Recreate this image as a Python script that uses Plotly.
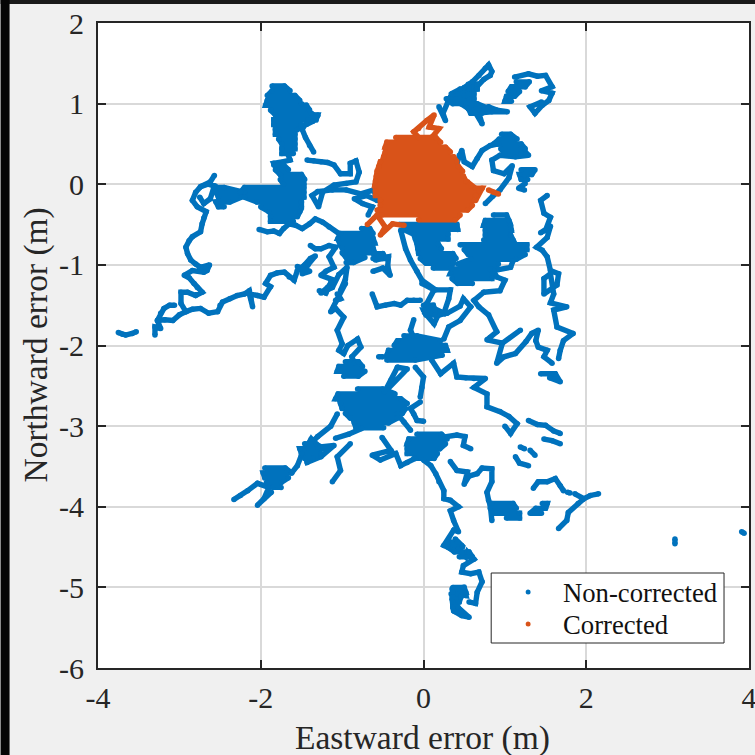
import plotly.graph_objects as go

# Chains: (eastward error, northward error) readings in metres, in drawing order.
tower_tail = [(-1.42,0.80),(-1.49,0.68),(-1.45,0.58),(-1.40,0.48),(-1.35,0.40)]
tower_arm = [(-1.50,1.0),(-1.44,0.94),(-1.38,0.88),(-1.31,0.84),(-1.36,0.78),(-1.44,0.74)]
tower_foot = [(-1.66,0.36),(-1.64,0.30),(-1.72,0.28),(-1.84,0.26),(-1.80,0.18),(-1.75,0.11)]
west_arm = [(-2.57,0.11),(-2.62,0.03),(-2.74,-0.03),(-2.80,-0.10),(-2.84,-0.20),(-2.78,-0.28),(-2.67,-0.34),(-2.70,-0.42),(-2.72,-0.49),(-2.74,-0.59),(-2.84,-0.65),(-2.88,-0.70),(-2.92,-0.78),(-2.90,-0.86),(-2.86,-0.94),(-2.80,-0.99),(-2.74,-1.03),(-2.63,-1.00),(-2.66,-1.07),(-2.70,-1.09),(-2.84,-1.07),(-2.94,-1.13),(-2.88,-1.16),(-2.82,-1.23),(-2.78,-1.28),(-2.72,-1.34),(-2.80,-1.38),(-2.90,-1.34),(-2.98,-1.34),(-2.98,-1.48),(-2.92,-1.58),(-3.00,-1.62),(-3.08,-1.69),(-3.18,-1.68),(-3.27,-1.69),(-3.23,-1.60),(-3.19,-1.54),(-3.12,-1.50),(-3.06,-1.50)]
west_arm_top = [(-2.74,-0.03),(-2.65,0.0),(-2.57,-0.02),(-2.62,-0.18),(-2.70,-0.24),(-2.75,-0.16)]
far_west = [(-3.75,-1.84),(-3.70,-1.86),(-3.66,-1.87),(-3.58,-1.85),(-3.53,-1.83)]
far_west_end = [(-3.30,-1.87),(-3.30,-1.77),(-3.23,-1.79),(-3.27,-1.69)]
south_west_arm = [(-2.92,-1.58),(-2.84,-1.55),(-2.74,-1.54),(-2.64,-1.60),(-2.53,-1.58),(-2.50,-1.50),(-2.47,-1.46),(-2.38,-1.42),(-2.29,-1.38),(-2.20,-1.36),(-2.14,-1.32),(-2.12,-1.42),(-2.10,-1.52),(-2.14,-1.36),(-2.04,-1.38),(-1.96,-1.40),(-1.88,-1.27),(-1.94,-1.23),(-1.88,-1.13),(-1.80,-1.10),(-1.71,-1.09),(-1.65,-1.15),(-1.59,-1.19),(-1.55,-1.07),(-1.46,-1.00),(-1.39,-0.92),(-1.33,-0.89),(-1.42,-1.00),(-1.49,-1.11),(-1.40,-1.08),(-1.55,-1.02)]
nw_spurs = [(-1.39,-0.76),(-1.33,-0.80),(-1.26,-0.80),(-1.16,-0.76),(-1.08,-0.78),(-1.16,-0.90),(-1.10,-1.03),(-1.20,-1.08),(-1.26,-1.13),(-1.10,-1.19),(-1.18,-1.28),(-1.26,-1.35),(-1.12,-1.28),(-1.04,-1.12),(-0.94,-1.03),(-0.96,-1.18),(-1.02,-1.32)]
row_south = [(-2.02,-0.56),(-1.92,-0.59),(-1.84,-0.58),(-1.77,-0.61),(-1.72,-0.55),(-1.65,-0.49),(-1.57,-0.51),(-1.49,-0.55),(-1.40,-0.49),(-1.33,-0.43),(-1.24,-0.47),(-1.16,-0.53),(-1.04,-0.61)]
north_loop = [(-1.43,0.30),(-1.35,0.29),(-1.26,0.28),(-1.18,0.27),(-1.10,0.24),(-1.02,0.13),(-0.90,0.13),(-0.90,0.26),(-0.83,0.29),(-0.79,0.15),(-0.83,0.03),(-0.95,0.01),(-1.10,-0.01),(-1.24,-0.10),(-1.29,-0.28),(-1.37,-0.14),(-1.30,-0.09),(-1.12,-0.07),(-0.95,-0.07),(-0.77,-0.12),(-0.61,-0.07),(-0.57,-0.20),(-0.70,-0.14),(-0.85,-0.18),(-0.75,-0.24),(-0.63,-0.28),(-0.68,-0.38)]
left_column = [(-0.96,-1.23),(-1.04,-1.40),(-1.14,-1.58),(-1.08,-1.54),(-0.98,-1.65),(-1.06,-1.81),(-1.00,-1.98),(-1.04,-2.06),(-0.98,-2.10),(-0.93,-2.0),(-0.81,-1.92),(-0.77,-2.02),(-0.88,-2.14),(-0.85,-2.22)]
far_left_column = [(-1.06,-1.36),(-1.02,-1.42),(-1.08,-1.44)]
upper_link = [(-1.28,-1.32),(-1.20,-1.35),(-1.14,-1.22)]
mid_links = [(-0.63,-1.36),(-0.57,-1.52),(-0.47,-1.50),(-0.36,-1.48),(-0.28,-1.50),(-0.20,-1.44),(-0.12,-1.44),(-0.04,-1.44)]
mid_cluster = [(-0.59,-0.94),(-0.50,-0.92),(-0.43,-0.90),(-0.44,-1.02),(-0.41,-1.13),(-0.50,-1.04),(-0.62,-1.08)]
center_links = [(-0.28,-0.57),(-0.22,-0.80),(-0.16,-0.94),(-0.08,-1.08),(-0.02,-1.19),(0.15,-1.31),(0.33,-1.31),(0.31,-1.42),(0.25,-1.60),(0.09,-1.52),(0.02,-1.60),(0.13,-1.73),(0.20,-1.58)]
center_links2 = [(-0.02,-1.23),(0.13,-1.31),(0.04,-1.48),(0.06,-1.62),(0.20,-1.62),(0.29,-1.60),(0.45,-1.51),(0.49,-1.42),(0.58,-1.52),(0.45,-1.69),(0.31,-1.77),(0.25,-1.92)]
upper_south = [(-0.12,-1.68),(-0.16,-1.81),(-0.13,-1.88)]
east_blob_skirt = [(0.74,-1.34),(0.94,-1.32),(1.00,-1.19),(0.90,-1.15),(0.86,-1.07),(1.07,-1.03),(1.10,-0.95)]
east_blob_skirt2 = [(0.74,-1.34),(0.62,-1.44),(0.68,-1.52),(0.80,-1.62),(0.90,-1.83),(0.82,-1.90),(0.78,-1.93),(0.97,-1.97),(1.19,-1.81)]
east_blob_skirt3 = [(0.97,-1.97),(0.90,-2.22),(0.99,-2.14),(1.13,-2.10),(1.26,-1.95),(1.33,-1.85),(1.41,-1.81),(1.38,-1.94),(1.41,-2.02),(1.52,-2.06),(1.48,-2.14),(1.58,-2.22)]
ne_arm = [(0.19,0.96),(0.27,0.79),(0.24,0.88),(0.30,1.02),(0.33,1.08),(0.39,1.12),(0.50,1.20),(0.60,1.27),(0.68,1.35),(0.76,1.44),(0.80,1.48),(0.84,1.40),(0.82,1.35),(0.74,1.30),(0.66,1.22),(0.60,1.15),(0.56,1.05),(0.62,0.92),(0.72,0.75),(0.66,0.95),(0.74,0.94),(0.80,0.96),(0.90,0.92),(1.03,0.90),(0.84,0.90),(0.64,0.88),(0.55,0.94),(0.46,1.00),(0.36,1.02),(0.42,1.12),(0.50,1.10),(0.56,1.18)]
ne_loop = [(1.12,1.33),(1.29,1.37),(1.40,1.34),(1.50,1.35),(1.58,1.21),(1.45,1.16),(1.58,1.13),(1.54,1.04),(1.46,0.98),(1.37,0.88),(1.31,0.96),(1.45,1.02)]
east_center = [(0.41,0.26),(0.44,0.36),(0.47,0.42),(0.50,0.28),(0.60,0.22),(0.66,0.32),(0.72,0.42),(0.82,0.48),(0.92,0.50)]
east_center2 = [(1.20,0.46),(1.29,0.36),(1.13,0.34),(0.94,0.36),(0.84,0.30),(0.86,0.17),(0.99,0.13),(1.09,0.23),(1.05,0.08),(0.94,-0.07),(0.85,-0.15),(0.76,-0.24)]
east_lump_tail = [(1.25,0.01),(1.17,-0.05),(1.24,-0.07)]
right_col = [(1.52,-0.14),(1.44,-0.20),(1.48,-0.36),(1.56,-0.41),(1.50,-0.57),(1.44,-0.60),(1.56,-0.52),(1.52,-0.66),(1.39,-0.78),(1.46,-0.82),(1.52,-0.90),(1.56,-1.07),(1.66,-1.11),(1.64,-1.25),(1.48,-1.36),(1.48,-1.17),(1.56,-1.11),(1.60,-1.36),(1.56,-1.47),(1.76,-1.52),(1.60,-1.56),(1.64,-1.77),(1.84,-1.85),(1.72,-1.94),(1.68,-2.06),(1.66,-2.16)]
right_col2 = [(1.44,-2.35),(1.62,-2.35),(1.68,-2.45),(1.55,-2.40)]
below_blob2 = [(-0.10,-2.27),(0.0,-2.39),(-0.02,-2.52),(-0.04,-2.64)]
below_blob3 = [(-0.04,-2.70),(-0.16,-2.78),(-0.12,-2.85),(-0.08,-2.93),(0.0,-2.94)]
blob2_left = [(-0.55,-2.14),(-0.50,-2.14)]
blob2_leg = [(-0.32,-2.27),(-0.40,-2.43),(-0.48,-2.58),(-0.20,-2.29),(-0.32,-2.27)]
row_2_4 = [(0.10,-2.18),(0.21,-2.35),(0.37,-2.22),(0.41,-2.39),(0.52,-2.40),(0.62,-2.41),(0.76,-2.41),(0.62,-2.52),(0.78,-2.60),(0.78,-2.76),(0.94,-2.82),(1.05,-2.88),(1.15,-2.97),(1.07,-3.09),(1.00,-3.00)]
fragment_a = [(1.29,-2.93),(1.40,-2.98),(1.50,-2.99),(1.60,-3.06),(1.68,-3.09)]
fragment_b = [(1.48,-3.16),(1.58,-3.18),(1.68,-3.22)]
fragment_c = [(1.19,-3.26),(1.24,-3.28)]
fragment_c2 = [(1.31,-3.30),(1.37,-3.36)]
fragment_d = [(1.13,-3.38),(1.18,-3.46),(1.29,-3.49)]
east_tail = [(1.35,-3.77),(1.41,-3.69),(1.52,-3.69),(1.62,-3.65),(1.68,-3.74),(1.72,-3.80)]
east_tail2 = [(1.86,-3.84),(1.97,-3.90),(2.05,-3.86),(2.15,-3.84)]
east_tail3 = [(1.97,-3.90),(1.90,-3.96),(1.78,-4.07),(1.76,-4.17),(1.66,-4.27)]
lower_right_bit = [(1.77,-3.82),(1.80,-3.83)]
sw_arm = [(-1.06,-2.85),(-1.14,-3.0),(-1.30,-3.13),(-1.47,-3.30),(-1.43,-3.45),(-1.26,-3.38),(-1.10,-3.24),(-1.30,-3.26),(-1.38,-3.16),(-1.50,-3.36),(-1.55,-3.49),(-1.62,-3.58)]
sw_tail = [(-1.87,-3.82),(-2.04,-3.98),(-1.96,-3.90),(-1.90,-3.76),(-2.04,-3.71),(-2.16,-3.80),(-2.25,-3.86),(-2.33,-3.91)]
sw_arm2 = [(-0.90,-3.22),(-1.06,-3.38),(-1.02,-3.55),(-1.12,-3.69)]
sw_arm3 = [(-0.76,-3.03),(-0.92,-3.10),(-1.08,-3.15)]
south_center_top = [(0.22,-3.14),(0.41,-3.11),(0.51,-3.13),(0.49,-3.24),(0.58,-3.28)]
south_leg = [(0.0,-3.42),(0.09,-3.49),(0.15,-3.59),(0.19,-3.69),(0.25,-3.80),(0.25,-3.90),(0.33,-3.92),(0.43,-4.00),(0.33,-4.05),(0.37,-4.17),(0.43,-4.31),(0.37,-4.29),(0.31,-4.40),(0.25,-4.48),(0.37,-4.54),(0.47,-4.48),(0.39,-4.40),(0.43,-4.52),(0.52,-4.62),(0.54,-4.56),(0.62,-4.65),(0.49,-4.73),(0.47,-4.81),(0.58,-4.83),(0.68,-4.81),(0.72,-4.93),(0.66,-5.06),(0.64,-5.20),(0.56,-5.18)]
south_foot = [(0.35,-5.02),(0.49,-5.00),(0.52,-5.10),(0.41,-5.08),(0.43,-5.18),(0.35,-5.14),(0.37,-5.29),(0.47,-5.35),(0.56,-5.37),(0.39,-5.22),(0.34,-5.08)]
south_branch = [(0.33,-3.44),(0.41,-3.55),(0.54,-3.57),(0.50,-3.72),(0.56,-3.62),(0.66,-3.59),(0.72,-3.52),(0.84,-3.53),(0.84,-3.69),(0.78,-3.82),(0.80,-3.92),(0.82,-3.98),(0.84,-4.17)]
lower_left = [(-0.51,-3.14),(-0.40,-3.30),(-0.63,-3.36),(-0.53,-3.42),(-0.34,-3.34),(-0.28,-3.49),(-0.20,-3.45),(-0.10,-3.40)]
down_links = [(-0.32,-2.85),(-0.24,-2.95),(-0.16,-3.05)]
isolated_a = [(3.09,-4.40),(3.09,-4.46)]
isolated_b = [(3.91,-4.31),(3.94,-4.33)]

# Dense clusters: one (northward error, west edge, east edge) reading per row of the cluster.
tower_rows = [(1.22,-1.86,-1.71),(1.16,-1.86,-1.64),(1.10,-1.92,-1.58),(1.04,-1.92,-1.52),(0.98,-1.94,-1.44),(0.92,-1.88,-1.40),(0.86,-1.82,-1.30),(0.80,-1.84,-1.32),(0.74,-1.84,-1.50),(0.68,-1.82,-1.55),(0.62,-1.82,-1.58),(0.56,-1.78,-1.58),(0.50,-1.74,-1.58),(0.44,-1.74,-1.58),(0.38,-1.74,-1.60)]
west_rows_a = [(-0.04,-2.58,-2.45),(-0.10,-2.55,-2.20),(-0.16,-2.52,-2.24),(-0.22,-2.55,-2.38),(-0.28,-2.52,-2.45)]
west_rows_b = [(0.24,-1.84,-1.72),(0.18,-1.82,-1.66),(0.12,-1.76,-1.50),(0.06,-1.76,-1.46),(0.0,-1.72,-1.47),(-0.04,-2.20,-1.47),(-0.10,-2.25,-1.47),(-0.16,-2.20,-1.47),(-0.22,-2.05,-1.50),(-0.28,-2.00,-1.50),(-0.34,-1.90,-1.52),(-0.40,-1.88,-1.55),(-0.46,-1.88,-1.60)]
nw_rows = [(-0.55,-0.76,-0.66),(-0.61,-1.02,-0.62),(-0.67,-1.05,-0.62),(-0.73,-1.03,-0.60),(-0.79,-1.00,-0.62),(-0.85,-1.00,-0.60),(-0.91,-0.95,-0.72),(-0.97,-0.95,-0.86)]
nw_rows_right = [(-0.86,-0.62,-0.50),(-0.92,-0.62,-0.46)]
center_rows = [(-0.50,-0.30,0.41),(-0.56,-0.25,0.42),(-0.62,-0.12,0.30),(-0.68,-0.10,0.30),(-0.74,-0.08,0.18),(-0.80,-0.07,0.22),(-0.86,-0.06,0.36),(-0.92,-0.04,0.40),(-0.98,0.03,0.36),(-1.04,0.12,0.34)]
east_rows_spire = [(-0.38,0.86,1.02),(-0.45,0.76,1.05),(-0.51,0.74,1.07),(-0.57,0.76,1.08),(-0.63,0.76,1.07),(-0.69,0.74,1.10)]
east_rows = [(-0.75,0.45,1.27),(-0.81,0.50,1.27),(-0.87,0.55,1.25),(-0.93,0.58,1.14),(-0.99,0.42,0.92),(-1.05,0.36,0.82),(-1.11,0.33,0.84),(-1.17,0.35,0.84),(-1.23,0.42,0.60)]
blob2_rows = [(-1.88,-0.24,-0.08),(-1.94,-0.32,0.21),(-2.00,-0.36,0.27),(-2.06,-0.43,0.29),(-2.12,-0.45,0.23),(-2.18,-0.45,-0.10)]
small_rows = [(-2.20,-0.96,-0.80),(-2.26,-1.04,-0.75),(-2.32,-1.06,-0.72),(-2.38,-0.98,-0.80)]
big_rows = [(-2.54,-0.81,-0.50),(-2.60,-1.05,-0.35),(-2.66,-1.08,-0.28),(-2.72,-1.02,-0.20),(-2.78,-1.00,-0.22),(-2.84,-0.96,-0.26),(-2.90,-0.90,-0.32),(-2.96,-0.85,-0.43),(-3.02,-0.83,-0.49)]
south_center_rows = [(-3.10,-0.08,0.22),(-3.16,-0.18,0.29),(-3.22,-0.20,0.27),(-3.28,-0.20,0.20),(-3.34,-0.20,0.17),(-3.40,-0.12,0.13)]
sw_rows = [(-3.52,-1.95,-1.70),(-3.58,-1.97,-1.62),(-3.64,-1.95,-1.66),(-3.70,-1.93,-1.75),(-3.76,-1.85,-1.75)]
sw_rows2 = [(-3.22,-1.46,-1.32),(-3.28,-1.52,-1.22),(-3.34,-1.50,-1.26),(-3.40,-1.46,-1.36)]
ne_rows = [(1.27,1.14,1.30),(1.21,1.08,1.25),(1.15,1.04,1.18),(1.09,1.02,1.12),(1.03,1.00,1.08)]
ne_rows2 = [(1.24,0.55,0.66),(1.18,0.45,0.66),(1.12,0.34,0.62),(1.06,0.28,0.62),(1.00,0.36,0.66),(0.94,0.55,0.80),(0.88,0.58,0.72)]
top_rows = [(0.62,0.96,1.07),(0.56,0.93,1.15),(0.50,0.86,1.20),(0.44,0.95,1.25),(0.38,1.00,1.20)]
lump_rows = [(0.18,1.20,1.37),(0.12,1.18,1.33),(0.06,1.20,1.28)]
se_rows = [(-3.96,0.84,1.10),(-4.02,0.82,1.14),(-4.08,0.88,1.18),(-4.14,1.02,1.18)]
se_rows2 = [(-3.96,1.46,1.52),(-4.02,1.38,1.50),(-4.08,1.31,1.45)]
leg_rows = [(-4.44,0.30,0.42),(-4.50,0.30,0.48),(-4.56,0.38,0.56),(-4.62,0.44,0.60)]
foot_rows = [(-5.00,0.36,0.50),(-5.06,0.36,0.52),(-5.12,0.36,0.46),(-5.18,0.36,0.44),(-5.24,0.36,0.42),(-5.30,0.38,0.46)]
mid_lump_rows = [(-1.50,0.0,0.12),(-1.56,0.0,0.14),(-1.62,0.03,0.14)]

# Corrected solution.
corrected_rows = [(0.58,-0.34,0.15),(0.52,-0.45,0.21),(0.46,-0.47,0.27),(0.40,-0.47,0.33),(0.34,-0.49,0.37),(0.28,-0.53,0.41),(0.22,-0.55,0.43),(0.16,-0.57,0.48),(0.10,-0.58,0.49),(0.04,-0.59,0.52),(-0.02,-0.60,0.58),(-0.08,-0.59,0.68),(-0.14,-0.59,0.64),(-0.20,-0.53,0.62),(-0.26,-0.53,0.60),(-0.32,-0.57,0.54),(-0.38,-0.51,0.45),(-0.44,-0.06,0.39)]
corrected_spike = [(0.11,0.59),(0.19,0.69),(0.07,0.71),(0.13,0.86),(0.04,0.79),(-0.06,0.69),(-0.12,0.65),(-0.06,0.58)]
corrected_tail = [(0.54,0.03),(0.64,-0.05),(0.72,-0.05),(0.64,-0.20)]
corrected_tail2 = [(0.80,-0.07),(0.86,-0.10),(0.92,-0.12)]
corrected_foot = [(-0.69,-0.50),(-0.57,-0.38),(-0.47,-0.53),(-0.53,-0.63),(-0.38,-0.49),(-0.24,-0.51)]

non_corrected_chains = [tower_tail, tower_arm, tower_foot, west_arm, west_arm_top, far_west, far_west_end, south_west_arm, nw_spurs, row_south, north_loop, left_column, far_left_column, upper_link, mid_links, mid_cluster, center_links, center_links2, upper_south, east_blob_skirt, east_blob_skirt2, east_blob_skirt3, ne_arm, ne_loop, east_center, east_center2, east_lump_tail, right_col, right_col2, below_blob2, below_blob3, blob2_left, blob2_leg, row_2_4, fragment_a, fragment_b, fragment_c, fragment_c2, fragment_d, east_tail, east_tail2, east_tail3, lower_right_bit, sw_arm, sw_tail, sw_arm2, sw_arm3, south_center_top, south_leg, south_foot, south_branch, lower_left, down_links, isolated_a, isolated_b]
non_corrected_rows = [tower_rows, west_rows_a, west_rows_b, nw_rows, nw_rows_right, center_rows, east_rows_spire, east_rows, blob2_rows, small_rows, big_rows, south_center_rows, sw_rows, sw_rows2, ne_rows, ne_rows2, top_rows, lump_rows, se_rows, se_rows2, leg_rows, foot_rows, mid_lump_rows]
corrected_chains = [corrected_spike, corrected_tail, corrected_tail2, corrected_foot]
corrected_row_sets = [corrected_rows]

x_ticks = [-4, -2, 0, 2, 4]
y_ticks = [-6, -5, -4, -3, -2, -1, 0, 1, 2]
series_names = ["Non-corrected", "Corrected"]
BLUE, ORANGE, INK = "#0072BD", "#D95319", "#262626"


def unroll(rows):
    """A cluster's rows, read alternately west-to-east and east-to-west."""
    out = []
    for i, (n, w, e) in enumerate(rows):
        out += [(w, n), (e, n)] if i % 2 == 0 else [(e, n), (w, n)]
    return out


def joined(chains, i):
    out = []
    for c in chains:
        out += [q[i] for q in c] + [None]
    return out


fig = go.Figure()
for name, chains, row_sets, col in [(series_names[0], non_corrected_chains, non_corrected_rows, BLUE),
                                    (series_names[1], corrected_chains, corrected_row_sets, ORANGE)]:
    paths = chains + [unroll(r) for r in row_sets]
    fig.add_trace(go.Scatter(x=joined(paths, 0), y=joined(paths, 1), mode="lines", showlegend=False,
                             hoverinfo="skip", line=dict(color=col, width=5.4, shape="linear")))
    fig.add_trace(go.Scatter(x=joined(paths, 0), y=joined(paths, 1), mode="markers", name=name, showlegend=False,
                             marker=dict(color=col, size=5.5)))

axis = dict(showline=True, linecolor=INK, linewidth=2, mirror="ticks", ticks="inside", ticklen=8,
            tickwidth=2, tickcolor=INK, showgrid=True, gridcolor="#d9d9d9", gridwidth=2, zeroline=False,
            tickfont=dict(size=30, color=INK), automargin=False, ticklabeloverflow="allow")
fig.update_xaxes(range=[-4, 4], tickvals=x_ticks, ticktext=[str(v) for v in x_ticks], ticklabelstandoff=2, **axis)
fig.update_yaxes(range=[-6, 2], tickvals=y_ticks, ticktext=[str(v) for v in y_ticks], ticklabelstandoff=6, **axis)

PW, PH = 651.5, 645.0


def px(x):
    return (x - 97.5) / PW


def py(y):
    return (668 - y) / PH


def note(text, x, y, size, xanchor="center", color=INK, **kw):
    return dict(text=text, x=px(x), y=py(y), xref="paper", yref="paper", showarrow=False,
                xanchor=xanchor, yanchor="middle", font=dict(size=size, color=color), **kw)


fig.update_layout(
    width=755, height=755, autosize=False, showlegend=False,
    margin=dict(l=97.5, r=6, t=23, b=87, pad=0),
    paper_bgcolor="#f0f0f0", plot_bgcolor="white",
    font=dict(family="Liberation Serif", color=INK),
    annotations=[
        note("Eastward error (m)", 422.5, 738, 33.5),
        note("Northward error (m)", 35, 345, 33.5, textangle=-90),
        note(series_names[0], 561, 593, 26.7, xanchor="left", color="#111111"),
        note(series_names[1], 561, 625, 26.7, xanchor="left", color="#111111"),
    ],
    shapes=[
        dict(type="rect", xref="paper", yref="paper", x0=px(0), x1=px(755), y0=py(4), y1=py(0),
             fillcolor="#1a1a1a", line_width=0, layer="below"),
        dict(type="rect", xref="paper", yref="paper", x0=px(0), x1=px(9), y0=py(755), y1=py(0),
             fillcolor="#050505", line_width=0, layer="below"),
        dict(type="rect", xref="paper", yref="paper", x0=px(491), x1=px(724), y0=py(643), y1=py(573),
             fillcolor="white", line=dict(color=INK, width=1)),
        dict(type="circle", xref="paper", yref="paper", x0=px(525.5), x1=px(530.5), y0=py(594.5), y1=py(589.5),
             fillcolor=BLUE, line_width=0),
        dict(type="circle", xref="paper", yref="paper", x0=px(525.5), x1=px(530.5), y0=py(626.5), y1=py(621.5),
             fillcolor=ORANGE, line_width=0),
    ],
)
fig.write_html("out.html", config=dict(displayModeBar=False),
               post_script="document.body.style.margin='0';document.documentElement.style.background='#f0f0f0';")
